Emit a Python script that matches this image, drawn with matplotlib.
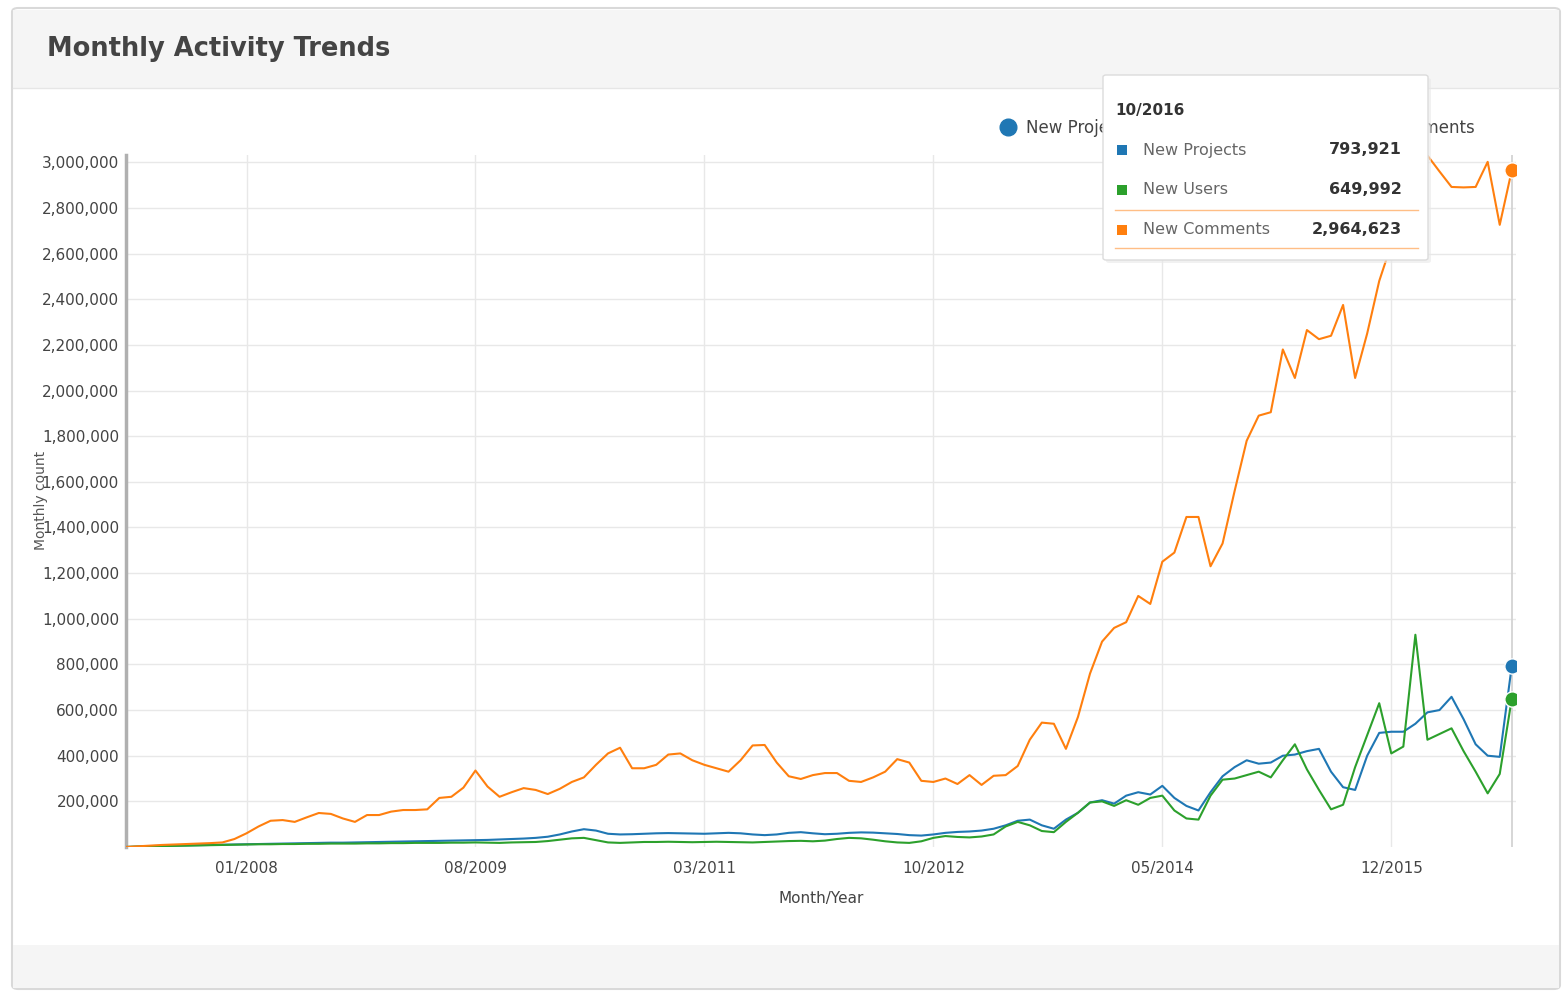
import numpy as np
import pandas as pd
import matplotlib
matplotlib.use("Agg")
import matplotlib.pyplot as plt
from matplotlib.patches import Rectangle, FancyBboxPatch
from matplotlib.lines import Line2D

# monthly data, 03/2007 .. 10/2016 (values in thousands)
months = pd.period_range("2007-03", "2016-10", freq="M")
month_labels = list(months.strftime("%m/%Y"))

new_projects = [
    0, 2, 4, 5, 6, 7, 8, 9, 10, 11,
    12, 13, 14, 15, 16, 17, 18, 19, 19, 20,
    21, 22, 23, 24, 25, 26, 27, 28, 29, 30,
    31, 33, 35, 37, 40, 45, 55, 68, 78, 72,
    58, 55, 56, 58, 60, 61, 60, 59, 58, 60,
    62, 60, 55, 52, 55, 62, 65, 60, 56, 58,
    62, 64, 63, 60, 57, 52, 50, 55, 62, 66,
    68, 72, 80, 95, 115, 120, 95, 80, 120, 150,
    195, 205, 190, 225, 240, 230, 268, 215, 180, 160,
    240, 310, 350, 380, 365, 370, 400, 405, 420, 430,
    330, 262, 250, 400, 500, 505, 505, 540, 590, 600,
    658, 560, 450, 400, 395, 793.921,
]
new_users = [
    0, 2, 3, 4, 5, 6, 7, 8, 9, 10,
    11, 12, 12, 13, 13, 14, 14, 15, 15, 15,
    16, 16, 17, 17, 18, 18, 18, 19, 19, 20,
    19, 18, 20, 21, 22, 26, 32, 38, 40, 30,
    20, 18, 20, 22, 22, 23, 22, 21, 22, 23,
    22, 21, 20, 22, 24, 26, 27, 25, 28, 35,
    40, 38, 32, 25, 20, 18, 25, 40, 48, 44,
    42, 46, 55, 90, 110, 95, 70, 65, 110, 150,
    195, 200, 180, 205, 185, 215, 225, 160, 125, 120,
    225, 295, 300, 315, 330, 305, 380, 450, 340, 250,
    165, 185, 350, 490, 630, 410, 440, 930, 470, 495,
    520, 420, 330, 235, 320, 649.992,
]
new_comments = [
    0, 3, 6, 9, 11, 13, 15, 17, 20, 35,
    60, 90, 115, 118, 110, 130, 149, 145, 125, 110,
    140, 140, 155, 162, 162, 165, 215, 220, 260, 335,
    265, 220, 240, 258, 250, 232, 255, 285, 305, 360,
    410, 435, 345, 345, 360, 405, 410, 380, 360, 345,
    330, 380, 445, 447, 370, 310, 298, 315, 324, 324,
    290, 285, 305, 330, 385, 370, 290, 285, 300, 276,
    315, 272, 312, 315, 355, 470, 545, 540, 430, 570,
    760, 900, 960, 985, 1100, 1065, 1250, 1290, 1446, 1446,
    1230, 1330, 1560, 1780, 1890, 1905, 2180, 2055, 2265, 2225,
    2240, 2375, 2055, 2250, 2480, 2640, 2850, 3050, 3030, 2960,
    2892, 2890, 2892, 3002, 2726, 2964.623,
]

series_names = ["New Projects", "New Users", "New Comments"]
series_colors = ["#1f77b4", "#2ca02c", "#ff7f0e"]
xtick_pos = [10, 29, 48, 67, 86, 105]
yticks = list(range(200000, 3000001, 200000))

W, H = 1565, 992
def fx(px):
    return px / W
def fy(py):
    return 1 - py / H

fig = plt.figure(figsize=(W / 100, H / 100), dpi=100)
fig.patch.set_facecolor("white")

# card, header and footer
fig.add_artist(FancyBboxPatch((fx(12), fy(989)), fx(1548), 981 / H,
                              boxstyle="round,pad=0,rounding_size=0.004",
                              transform=fig.transFigure, fc="white", ec="#d9d9d9",
                              lw=1.5, zorder=-3))
fig.add_artist(Rectangle((fx(13), fy(88)), fx(1546), 78 / H, transform=fig.transFigure,
                         fc="#f5f5f5", ec="none", zorder=-2))
fig.add_artist(Line2D([fx(13), fx(1559)], [fy(88), fy(88)], transform=fig.transFigure,
                      color="#e6e6e6", lw=1, zorder=-2))
fig.add_artist(Rectangle((fx(13), fy(988)), fx(1546), 43 / H, transform=fig.transFigure,
                         fc="#f5f5f5", ec="none", zorder=-2))
fig.text(fx(47), fy(49), "Monthly Activity Trends", fontsize=18.5, fontweight="bold",
         color="#444444", va="center", ha="left")

ax = fig.add_axes([fx(126), fy(847), fx(1516 - 126), (847 - 155) / H])
ax.set_facecolor("none")
x = np.arange(len(months))
data = [np.array(new_projects) * 1000, np.array(new_users) * 1000, np.array(new_comments) * 1000]
for vals, c in zip(data, series_colors):
    ax.plot(x, vals, color=c, lw=1.5, zorder=3)
    ax.plot(x[-1], vals[-1], "o", ms=11, color=c, mec="white", mew=1, zorder=5)

ax.axvline(x[-1], color="#d0d0d0", lw=1.2, zorder=1)
ax.set_xlim(0, 115.35)
ax.set_ylim(0, 3032000)
ax.set_xticks(xtick_pos)
ax.set_xticklabels([month_labels[i] for i in xtick_pos])
ax.set_yticks(yticks)
ax.set_yticklabels([f"{v:,}" for v in yticks])
ax.tick_params(length=0, labelsize=11, colors="#444444")
ax.tick_params(axis="x", pad=10)
ax.tick_params(axis="y", pad=5)
ax.grid(True, color="#e8e8e8", lw=1)
ax.set_axisbelow(True)
for s in ["top", "right", "bottom"]:
    ax.spines[s].set_visible(False)
ax.spines["left"].set_color("#b0b0b0")
ax.spines["left"].set_linewidth(2.5)
ax.set_xlabel("Month/Year", fontsize=11, color="#444444", labelpad=11)
fig.text(fx(41), fy(500), "Monthly count", rotation=90, fontsize=10,
         color="#555555", ha="center", va="center")

# legend (partly hidden by tooltip)
handles = [Line2D([], [], ls="none", marker="o", ms=12, color=c) for c in series_colors]
fig.legend(handles, series_names, loc="center right", bbox_to_anchor=(fx(1490), fy(128)),
           ncol=3, frameon=False, fontsize=12, handletextpad=0.05, columnspacing=1.6,
           labelcolor="#444444")

# tooltip
fig.add_artist(FancyBboxPatch((fx(1106), fy(263)), fx(325), 185 / H,
                              boxstyle="round,pad=0,rounding_size=0.002",
                              transform=fig.transFigure, fc="#e9e9e9", ec="none",
                              alpha=0.6, zorder=8))
fig.add_artist(FancyBboxPatch((fx(1103), fy(260)), fx(325), 185 / H,
                              boxstyle="round,pad=0,rounding_size=0.002",
                              transform=fig.transFigure, fc="white", ec="#dcdcdc",
                              lw=1, zorder=9))
fig.text(fx(1115), fy(110), month_labels[-1], fontsize=11, fontweight="bold",
         color="#333333", va="center", zorder=10)
row_y = [150, 190, 230]
for name, c, vals, ry in zip(series_names, series_colors, data, row_y):
    fig.add_artist(Rectangle((fx(1117), fy(ry + 5)), fx(10), 10 / H,
                             transform=fig.transFigure, fc=c, ec="none", zorder=10))
    fig.text(fx(1143), fy(ry), name, fontsize=11.5, color="#666666", va="center", zorder=10)
    fig.text(fx(1402), fy(ry), f"{int(round(vals[-1])):,}", fontsize=11.5,
             fontweight="bold", color="#333333", va="center", ha="right", zorder=10)
for ly in [210, 248]:
    fig.add_artist(Line2D([fx(1115), fx(1418)], [fy(ly), fy(ly)], transform=fig.transFigure,
                          color="#ff7f0e", lw=1, alpha=0.5, zorder=10))

fig.savefig("out.png", dpi=100)
